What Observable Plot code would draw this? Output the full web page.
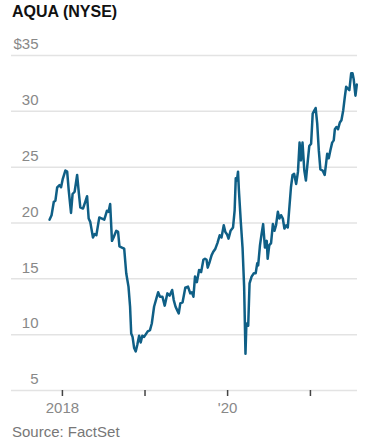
<!DOCTYPE html>
<html>
<head>
<meta charset="utf-8">
<script src="https://cdn.jsdelivr.net/npm/d3@7"></script>
<script src="https://cdn.jsdelivr.net/npm/@observablehq/plot@0.6"></script>
<style>
  html, body { margin: 0; padding: 0; background: #fff; }
  body { width: 368px; height: 439px; overflow: hidden; font-family: "Liberation Sans", Arial, sans-serif; }
  #title { height: 30px; box-sizing: border-box; padding: 3px 0 0 12px; font-size: 16px; font-weight: bold; color: #111; line-height: 18px; }
  #caption { padding: 3px 0 0 12px; font-size: 15px; color: #777; line-height: 18px; }
  svg { display: block; }
</style>
</head>
<body>
<div id="title">AQUA (NYSE)</div>
<div id="chart"></div>
<div id="caption">Source: FactSet</div>
<script>
const dates = [
  "2017-11-05","2017-11-14","2017-11-24","2017-12-01","2017-12-09","2017-12-19","2017-12-26",
  "2018-01-02","2018-01-14","2018-01-22","2018-01-29","2018-02-08","2018-02-15","2018-02-24",
  "2018-03-07","2018-03-15","2018-03-21","2018-04-02","2018-04-12","2018-04-20","2018-04-27",
  "2018-05-04","2018-05-16","2018-05-23","2018-05-31","2018-06-13","2018-06-25","2018-07-05",
  "2018-07-17","2018-07-24","2018-07-31","2018-08-08","2018-08-15","2018-08-27","2018-09-04",
  "2018-09-10","2018-09-21","2018-10-01","2018-10-10","2018-10-20","2018-10-27","2018-11-01",
  "2018-11-07","2018-11-14","2018-11-21","2018-11-28","2018-12-06","2018-12-13","2018-12-20",
  "2018-12-28","2019-01-13","2019-01-23","2019-01-31","2019-02-10","2019-02-21","2019-02-28",
  "2019-03-08","2019-03-19","2019-03-29","2019-04-10","2019-04-20","2019-05-01","2019-05-08",
  "2019-05-16","2019-05-23","2019-05-30","2019-06-06","2019-06-16","2019-06-28","2019-07-10",
  "2019-07-20","2019-07-27","2019-08-03","2019-08-10","2019-08-18","2019-08-28","2019-09-06",
  "2019-09-16","2019-09-23","2019-09-30","2019-10-05","2019-10-12","2019-10-22","2019-10-29",
  "2019-11-08","2019-11-17","2019-11-27","2019-12-05","2019-12-15","2019-12-22","2019-12-29",
  "2020-01-05","2020-01-14","2020-01-25","2020-02-01","2020-02-06","2020-02-11","2020-02-16",
  "2020-02-20","2020-02-28","2020-03-07","2020-03-14","2020-03-20","2020-03-24","2020-04-01",
  "2020-04-07","2020-04-16","2020-04-26","2020-05-04","2020-05-11","2020-05-15","2020-05-23",
  "2020-05-30","2020-06-06","2020-06-14","2020-06-22","2020-06-26","2020-07-03","2020-07-11",
  "2020-07-19","2020-07-26","2020-08-02","2020-08-10","2020-08-17","2020-08-24","2020-09-01",
  "2020-09-08","2020-09-16","2020-09-23","2020-10-07","2020-10-14","2020-10-21","2020-10-30",
  "2020-11-07","2020-11-14","2020-11-20","2020-11-27","2020-12-05","2020-12-12","2020-12-19",
  "2020-12-27","2021-01-04","2021-01-11","2021-01-19","2021-01-24","2021-01-31","2021-02-07",
  "2021-02-14","2021-02-24","2021-03-05","2021-03-11","2021-03-16","2021-03-23","2021-03-30",
  "2021-04-07","2021-04-14","2021-04-19","2021-04-26","2021-05-03","2021-05-11","2021-05-18",
  "2021-05-26","2021-06-02","2021-06-08","2021-06-17","2021-06-22","2021-06-30","2021-07-06",
  "2021-07-11","2021-07-19","2021-07-25"
];
const prices = [
  20.3,20.7,21.9,22.0,23.2,23.4,23.2,
  23.9,24.7,24.6,22.9,20.9,22.6,22.8,
  24.3,22.6,21.4,21.3,21.9,22.4,20.4,
  20.1,18.7,19.0,18.9,20.5,20.4,20.3,
  21.1,21.0,21.7,18.4,18.7,19.3,19.2,
  17.9,17.8,17.7,15.5,14.3,12.5,10.1,
  9.8,8.8,8.5,9.1,9.9,9.3,9.9,
  9.8,10.3,10.4,11.0,12.5,13.3,13.8,
  13.4,13.4,12.6,13.7,13.5,14.0,13.1,
  12.5,12.2,11.9,12.8,12.9,14.2,14.3,
  13.7,13.8,13.4,15.2,14.7,15.8,15.6,
  16.7,16.8,16.7,16.0,16.4,17.1,17.4,
  17.7,18.2,18.9,18.7,19.8,19.2,19.0,
  18.6,19.3,19.6,21.1,24.0,23.8,24.6,
  22.9,20.2,17.8,14.3,8.3,11.0,10.8,
  14.6,15.2,15.5,15.5,16.4,16.2,18.0,
  19.0,19.9,17.8,18.4,16.8,18.0,18.2,
  19.9,19.3,19.8,21.0,20.4,20.7,20.4,
  19.5,19.8,19.6,23.2,24.3,24.4,23.5,
  24.6,27.2,25.6,27.2,24.7,23.8,25.3,
  26.9,27.1,29.8,30.1,30.3,28.9,26.5,
  24.8,24.7,24.3,25.3,26.2,25.8,26.5,
  27.2,27.4,28.4,28.6,28.4,29.0,29.2,
  30.1,31.3,32.2,32.0,31.9,33.4,33.4,
  32.9,31.4,32.4
];
const yTicks = [5, 10, 15, 20, 25, 30, 35];
const yTickLabels = ["5", "10", "15", "20", "25", "30", "$35"];
const xTickYears = [2018, 2019, 2020, 2021];
const xTickLabels = ["2018", "", "'20", ""];

const data = dates.map((d, i) => ({date: new Date(d), price: prices[i]}));
const xTicks = xTickYears.map(y => new Date(Date.UTC(y, 0, 1)));

const chart = Plot.plot({
  width: 368,
  height: 390,
  marginLeft: 11,
  marginRight: 11,
  marginTop: 25,
  marginBottom: 30,
  style: {fontFamily: "'Liberation Sans', Arial, sans-serif", fontSize: "15px", background: "#fff", color: "#888"},
  x: {type: "utc", domain: [new Date("2017-05-21"), new Date("2021-07-28")], label: null},
  y: {domain: [5, 35], label: null},
  marks: [
    Plot.gridY(yTicks, {stroke: "#e3e3e3", strokeOpacity: 1, strokeWidth: 1.5}),
    Plot.axisY(yTicks, {
      anchor: "left", label: null, tickSize: 0, tickPadding: 0, dx: 27, dy: -11, textAnchor: "end",
      fill: "#888", tickFormat: d => yTickLabels[yTicks.indexOf(d)]
    }),
    Plot.axisX(xTicks, {
      anchor: "bottom", label: null, tickSize: 6, tickPadding: 6, stroke: "#444", strokeWidth: 1.5, fill: "#888",
      tickFormat: d => xTickLabels[xTickYears.indexOf(d.getUTCFullYear())]
    }),
    Plot.lineY(data, {x: "date", y: "price", stroke: "#0f5f86", strokeWidth: 2.5, strokeLinejoin: "round"})
  ]
});
document.getElementById("chart").appendChild(chart);
</script>
</body>
</html>
